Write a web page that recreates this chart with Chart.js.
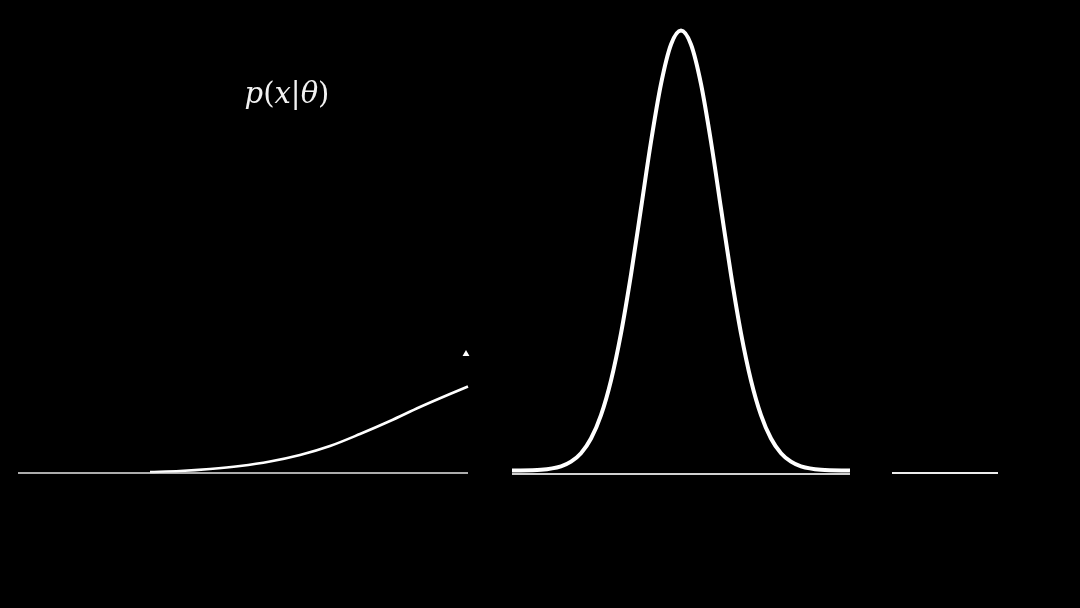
<!DOCTYPE html>
<html>
<head>
<meta charset="utf-8">
<script src="https://cdn.jsdelivr.net/npm/chart.js@4.4.1/dist/chart.umd.min.js"></script>
<style>
    html, body { margin: 0; padding: 0; background: #000; }
    #wrap { position: relative; width: 1080px; height: 608px; background: #000; }
    #likelihood-label {
        position: absolute; left: 187px; top: 78px; width: 200px;
        text-align: center; color: #f2f2f2; line-height: 30px;
        font-family: 'DejaVu Serif', serif; font-size: 29px;
    }
    #likelihood-label i { font-style: italic; }
</style>
</head>
<body>
<div id="wrap">
    <canvas id="density-chart" width="1080" height="608"></canvas>
    <div id="likelihood-label"><i>p</i>(<i>x</i>|<i>θ</i>)</div>
</div>
<script>
// Values (x along the axis, y = height above the axis line)

// left panel: rising tail of the wide curve
const tailX = [150, 180, 210, 240, 270, 300, 330, 360, 390, 420, 450, 468];
const tailY = [1, 2, 4, 7, 11.5, 18, 27, 39, 52, 66, 79, 86.5];

// middle panel: narrow bell curve
const bellX = [512, 541, 561, 571, 581, 591, 601, 611, 621, 631, 641, 651, 661, 671, 681,
               691, 701, 711, 721, 731, 741, 751, 761, 771, 781, 791, 801, 821, 850];
const bellY = [2.5, 3.3, 6.7, 11.3, 19.8, 34.5, 57.9, 92.6, 139.7, 198.4, 264.6, 331.3, 389, 428.5, 442.5,
               428.5, 389, 331.3, 264.6, 198.4, 139.7, 92.6, 57.9, 34.5, 19.8, 11.3, 6.7, 3.3, 2.5];

// axis segments [start, end] for each panel
const leftAxis = [18, 468];
const middleAxis = [512, 850];
const rightAxis = [892, 998];

// small marker above the tail
const markerX = [466];
const markerY = [119];

document.addEventListener('DOMContentLoaded', () => {
    const toPoints = (xs, ys) => xs.map((x, i) => ({ x: x, y: ys[i] }));
    const segment = (range, level) => range.map(x => ({ x: x, y: level }));

    const lineSet = (data, width, color, smooth) => ({
        data: data,
        showLine: true,
        borderColor: color,
        borderWidth: width,
        pointRadius: 0,
        fill: false,
        cubicInterpolationMode: smooth ? 'monotone' : 'default',
        borderCapStyle: 'butt'
    });

    const ctx = document.getElementById('density-chart').getContext('2d');
    new Chart(ctx, {
        type: 'scatter',
        data: {
            datasets: [
                lineSet(segment(leftAxis, 0), 1.6, '#e6e6e6', false),
                lineSet(toPoints(tailX, tailY), 2.6, '#ffffff', true),
                lineSet(segment(middleAxis, -1), 2, '#d0d0d0', false),
                lineSet(toPoints(bellX, bellY), 4, '#ffffff', true),
                lineSet(segment(rightAxis, 0), 1.8, '#ececec', false),
                {
                    data: toPoints(markerX, markerY),
                    pointStyle: 'triangle',
                    pointRadius: 4,
                    backgroundColor: '#ffffff',
                    borderColor: '#ffffff',
                    borderWidth: 0,
                    showLine: false
                }
            ]
        },
        options: {
            responsive: false,
            animation: false,
            layout: { padding: 0, autoPadding: false },
            plugins: {
                legend: { display: false },
                tooltip: { enabled: false },
                title: { display: false }
            },
            scales: {
                x: { type: 'linear', display: false, min: 0, max: 1080 },
                y: { type: 'linear', display: false, min: -135, max: 473 }
            }
        }
    });
});
</script>
</body>
</html>
